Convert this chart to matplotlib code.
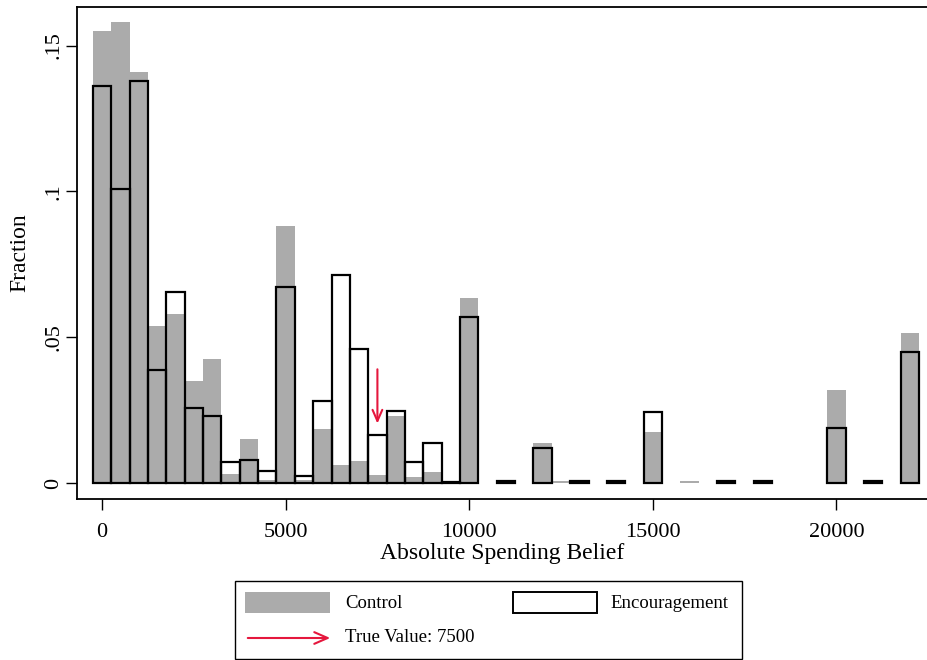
"""
Histogram of absolute spending beliefs, control vs encouragement.
"""

import matplotlib
matplotlib.use('Agg')
import matplotlib.pyplot as plt
from matplotlib.patches import Rectangle, FancyArrowPatch

# bin centres (width 500)
bins = [0, 500, 1000, 1500, 2000, 2500, 3000, 3500, 4000, 4500, 5000,
        5500, 6000, 6500, 7000, 7500, 8000, 8500, 9000, 9500, 10000,
        11000, 12000, 12500, 13000, 14000, 15000, 16000, 17000, 18000,
        20000, 21000, 22000]

control = [0.155, 0.158, 0.141, 0.054, 0.058, 0.035, 0.0425, 0.003, 0.015,
           0.001, 0.088, 0.001, 0.0186, 0.0063, 0.0076, 0.0028, 0.023,
           0.0023, 0.004, 0.0, 0.0634,
           0.0, 0.0137, 0.0009, 0.0009, 0.0, 0.0177, 0.0009, 0.0009, 0.0009,
           0.032, 0.0, 0.0514]

encouragement = [0.136, 0.101, 0.138, 0.0388, 0.0655, 0.0257, 0.0232,
                 0.0074, 0.008, 0.0042, 0.0673, 0.0025, 0.0283, 0.0713,
                 0.0459, 0.0164, 0.0249, 0.0073, 0.0137, 0.0003, 0.057,
                 0.0007, 0.012, 0.0, 0.0007, 0.0007, 0.0245, 0.0, 0.0007,
                 0.0008, 0.0188, 0.0007, 0.0451]

true_value = 7500
xticks = [0, 5000, 10000, 15000, 20000]
yticks = [0, 0.05, 0.1, 0.15]
ytick_labels = ['0', '.05', '.1', '.15']

GRAY = '#ababab'
RED = '#e5173d'

plt.rcParams['font.family'] = ['Liberation Serif', 'DejaVu Serif']

fig = plt.figure(figsize=(9.27, 6.6), dpi=100)
ax = fig.add_axes([77 / 927, 161 / 660, 850 / 927, 492 / 660])

cx = [b for b, v in zip(bins, control) if v > 0]
cv = [v for v in control if v > 0]
ax.bar(cx, cv, width=500, color=GRAY, linewidth=0)

ex = [b for b, v in zip(bins, encouragement) if v > 0]
ev = [v for v in encouragement if v > 0]
ax.bar(ex, ev, width=500, fill=False, edgecolor='black', linewidth=1.6)

ax.annotate('', xy=(true_value, 0.0195), xytext=(true_value, 0.040),
            arrowprops=dict(arrowstyle='->,head_length=0.8,head_width=0.35',
                            color=RED, lw=1.5))

ax.set_xlim(-681, 22467)
ax.set_ylim(-0.0054, 0.1632)
ax.set_xticks(xticks)
ax.set_yticks(yticks)
ax.set_yticklabels(ytick_labels, rotation=90, va='center')
ax.tick_params(axis='both', labelsize=16, length=8, width=1, direction='out')
ax.tick_params(axis='x', pad=9)
ax.tick_params(axis='y', pad=2)
ax.spines['right'].set_visible(False)
for s in ['left', 'top', 'bottom']:
    ax.spines[s].set_linewidth(1.3)

ax.set_xlabel('Absolute Spending Belief', fontsize=17, labelpad=1)
ax.set_ylabel('Fraction', fontsize=17, labelpad=10)

# legend box drawn in figure pixels
W, H = 927.0, 660.0
def fx(px):
    return px / W
def fy(py):
    return 1 - py / H

fig.add_artist(Rectangle((fx(235), fy(659)), fx(742) - fx(235), fy(581) - fy(659),
                         transform=fig.transFigure, fill=False,
                         edgecolor='black', linewidth=1.0))
fig.add_artist(Rectangle((fx(245), fy(613)), fx(330) - fx(245), fy(592) - fy(613),
                         transform=fig.transFigure, facecolor=GRAY,
                         edgecolor='none'))
fig.text(fx(345), fy(603), 'Control', fontsize=13.5, va='center')
fig.add_artist(Rectangle((fx(513), fy(613)), fx(597) - fx(513), fy(592) - fy(613),
                         transform=fig.transFigure, facecolor='white',
                         edgecolor='black', linewidth=1.4))
fig.text(fx(610), fy(603), 'Encouragement', fontsize=13.5, va='center')
fig.add_artist(FancyArrowPatch(
    (fx(245), fy(638)), (fx(333), fy(638)), transform=fig.transFigure,
    arrowstyle='->,head_length=0.8,head_width=0.35', mutation_scale=12,
    color=RED, lw=1.5))
fig.text(fx(345), fy(638), 'True Value: 7500', fontsize=13.5, va='center')

fig.savefig('out.png', dpi=100)
